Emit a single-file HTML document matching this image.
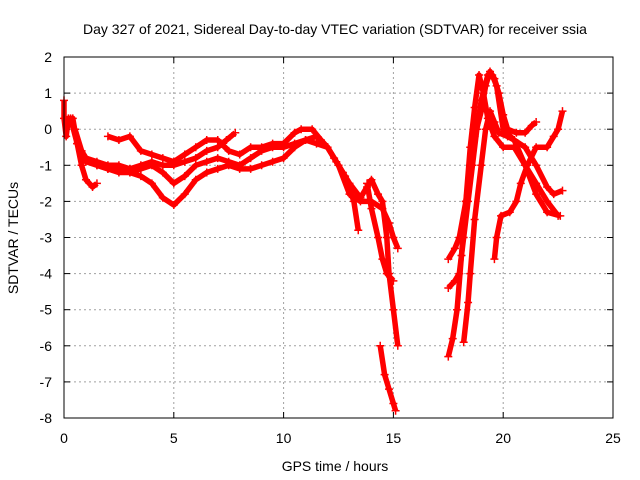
<!DOCTYPE html>
<html><head><meta charset="utf-8"><style>
body{margin:0;background:#fff}
svg{display:block;font-family:"Liberation Sans",sans-serif}
</style></head><body>
<svg id="chart" width="640" height="480" viewBox="0 0 640 480">
<text x="335" y="34" font-size="14" text-anchor="middle">Day 327 of 2021, Sidereal Day-to-day VTEC variation (SDTVAR) for receiver ssia</text>
<text x="335" y="471" font-size="14" text-anchor="middle">GPS time / hours</text>
<text transform="translate(18,238) rotate(-90)" font-size="14" text-anchor="middle">SDTVAR / TECUs</text>
<g id="grid"></g>
<g id="ticks"></g>
<g id="series"></g>
<rect x="64" y="57" width="549" height="361" fill="none" stroke="#000" stroke-width="1"/>
</svg>
<script>
const xTicks=[0,5,10,15,20,25];
const yTicks=[-8,-7,-6,-5,-4,-3,-2,-1,0,1,2];
const traceA=[[0,0.8],[0,0.3],[0.1,-0.2],[0.2,0.3],[0.4,0.3],[0.6,-0.4],[0.8,-1.0],[1.0,-1.4],[1.3,-1.6],[1.5,-1.5]];
const traceB=[[0.3,0.3],[0.6,-0.4],[1,-0.8],[1.5,-0.9],[2,-1.0],[2.5,-1.0],[3,-1.1],[3.5,-1.0],[4,-0.9],[4.5,-1.0],[5,-1.0],[5.5,-0.9],[6,-0.8],[6.5,-0.6],[7,-0.5],[7.4,-0.3],[7.8,-0.1]];
const traceC=[[0.5,0],[0.8,-0.6],[1,-0.9],[1.5,-1.0],[2,-1.1],[2.5,-1.1],[3,-1.2],[3.5,-1.3],[4,-1.5],[4.5,-1.9],[5,-2.1],[5.5,-1.8],[6,-1.4],[6.5,-1.2],[7,-1.1],[7.5,-1.0],[8,-1.1],[8.5,-1.1],[9,-1.0],[9.5,-0.9],[10,-0.8],[10.5,-0.5],[11,-0.3],[11.5,-0.4],[12,-0.5],[12.5,-1.0],[13,-1.8],[13.5,-2.0],[14,-2.0],[14.5,-2.2],[14.8,-2.6],[15,-3.0],[15.2,-3.3]];
const traceD=[[2,-0.2],[2.5,-0.3],[3,-0.2],[3.5,-0.6],[4,-0.7],[4.5,-0.8],[5,-0.9],[5.5,-0.7],[6,-0.5],[6.5,-0.3],[7,-0.3],[7.5,-0.6],[8,-0.7],[8.5,-0.5],[9,-0.5],[9.5,-0.4],[10,-0.4],[10.5,-0.1],[10.8,0],[11.3,0],[11.7,-0.3],[12,-0.5],[12.4,-0.9],[12.8,-1.3],[13.2,-2.0],[13.4,-2.8]];
const traceE=[[1.5,-1.0],[2,-1.1],[2.5,-1.2],[3,-1.2],[3.5,-1.1],[4,-1.0],[4.5,-1.2],[5,-1.5],[5.5,-1.3],[6,-1.0],[6.5,-0.9],[7,-0.8],[7.5,-0.9],[8,-1.0],[8.5,-0.8],[9,-0.6],[9.5,-0.5],[10,-0.5],[10.5,-0.4],[11,-0.3],[11.5,-0.2],[12,-0.5],[12.3,-0.8],[12.7,-1.2],[13,-1.5],[13.5,-1.9],[13.8,-1.6],[14,-1.4],[14.3,-1.8],[14.5,-2.0],[14.7,-3.0],[14.8,-4.0],[15,-5.0],[15.2,-6.0]];
const traceF=[[13.8,-1.5],[14,-2.2],[14.3,-3.0],[14.5,-3.6],[14.7,-4.0],[15,-4.2],[14.4,-6.0],[14.6,-6.8],[14.8,-7.2],[15,-7.6],[15.1,-7.8]];
const traceG=[[17.5,-6.3],[17.7,-5.8],[17.9,-5.0],[18.1,-3.5],[18.3,-2.0],[18.5,-0.5],[18.7,0.6],[18.9,1.5],[19.1,1.0],[19.3,0.3],[19.6,-0.2],[20,-0.5],[20.5,-0.5],[21,-1.0],[21.5,-1.5],[22,-2.0],[22.5,-2.4]];
const traceH=[[17.5,-4.4],[17.8,-4.2],[18,-4.0],[18.2,-3.0],[18.4,-2.0],[18.6,-1.0],[18.8,0],[19,0.8],[19.3,1.5],[19.5,1.5],[19.7,1.2],[20,0],[20.5,-0.3],[21,-0.5],[21.5,-1.0],[22,-1.6],[22.3,-1.8],[22.7,-1.7]];
const traceI=[[17.5,-3.6],[17.8,-3.3],[18,-3.0],[18.3,-2.0],[18.5,-1.0],[18.7,-0.2],[19,0.5],[19.2,1.2],[19.4,1.6],[19.6,1.4],[19.8,1.0],[20,0.4],[20.2,0],[20.6,-0.1],[21,-0.1],[21.3,0.1],[21.5,0.2]];
const traceJ=[[19.6,-3.6],[19.7,-3.0],[19.9,-2.4],[20.3,-2.3],[20.6,-2.0],[20.8,-1.5],[21.1,-1.0],[21.5,-0.5],[22,-0.5],[22.3,-0.2],[22.5,0],[22.7,0.5]];
const traceK=[[18.2,-5.9],[18.4,-4.8],[18.5,-4.0],[18.7,-2.5],[19,-1.0],[19.2,0],[19.4,0.5],[19.6,0.2],[19.8,-0.1],[20.2,-0.2],[20.5,-0.3],[21,-1.0],[21.5,-1.8],[22,-2.3],[22.6,-2.4]];
const traces=[traceA,traceB,traceC,traceD,traceE,traceF,traceG,traceH,traceI,traceJ,traceK];
const NS='http://www.w3.org/2000/svg';
const X=v=>64+v*549/25, Y=v=>418-(v+8)*361/10;
const grid=document.getElementById('grid'),ticks=document.getElementById('ticks'),ser=document.getElementById('series');
function mk(t,a,p){const e=document.createElementNS(NS,t);for(const k in a)e.setAttribute(k,a[k]);p.appendChild(e);return e;}
xTicks.forEach(v=>{
 if(v>0&&v<25){const g=mk('line',{x1:X(v),x2:X(v),y1:57,y2:418,stroke:'#a0a0a0','stroke-dasharray':'2,3'},grid);
 
 }
 mk('line',{x1:X(v),x2:X(v),y1:418,y2:412,stroke:'#000'},ticks);
 mk('line',{x1:X(v),x2:X(v),y1:57,y2:63,stroke:'#000'},ticks);
 const t=mk('text',{x:X(v),y:443,'font-size':14,'text-anchor':'middle'},ticks);t.textContent=v;
 
 
});
yTicks.forEach(v=>{
 if(v>-8&&v<2){const g=mk('line',{x1:64,x2:613,y1:Y(v),y2:Y(v),stroke:'#a0a0a0','stroke-dasharray':'2,3'},grid);
 
 }
 mk('line',{x1:64,x2:70,y1:Y(v),y2:Y(v),stroke:'#000'},ticks);
 mk('line',{x1:613,x2:607,y1:Y(v),y2:Y(v),stroke:'#000'},ticks);
 const t=mk('text',{x:52,y:Y(v)+5,'font-size':14,'text-anchor':'end'},ticks);t.textContent=v;
 
 
});
traces.forEach(tr=>{
 const segs=[];let cur=[];
 tr.forEach((p,i)=>{if(i>0&&Math.abs(p[1]-tr[i-1][1])>1.5&&p[0]<tr[i-1][0]+0.01){segs.push(cur);cur=[];}cur.push(p);});segs.push(cur);
 segs.forEach(s=>{const l=mk('polyline',{points:s.map(p=>X(p[0])+','+Y(p[1])).join(' '),fill:'none',stroke:'#ff0000','stroke-width':5.5,'stroke-linejoin':'round'},ser);
 
 });
 tr.forEach(p=>{const m=mk('path',{d:`M${X(p[0])-4},${Y(p[1])}h8M${X(p[0])},${Y(p[1])-4}v8`,stroke:'#ff0000','stroke-width':1.5},ser);
 
 });
});
</script>
</body></html>
